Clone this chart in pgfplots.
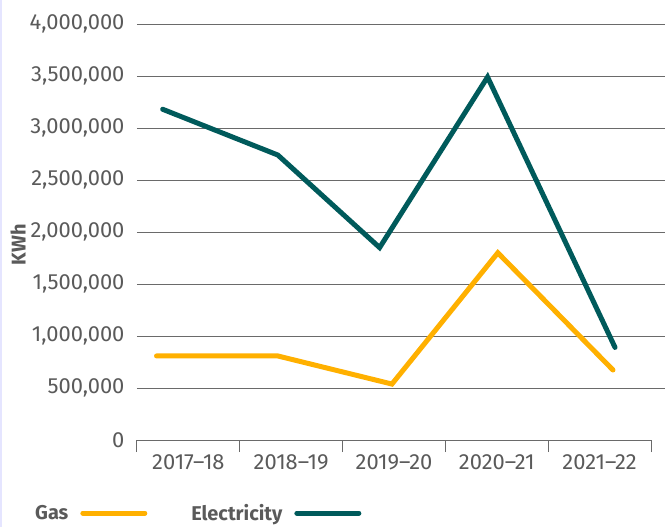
\documentclass[border=0pt]{standalone}
\usepackage{fontspec}
\setmainfont{Fira Sans}
\usepackage{pgfplots}
\pgfplotsset{compat=1.18}
\definecolor{elec}{HTML}{005A5B}
\definecolor{gas}{HTML}{FFB000}
\definecolor{txt}{HTML}{5A5A5A}
\definecolor{gridc}{HTML}{6A6A6A}
\begin{document}
\begin{tikzpicture}
\begin{axis}[name=ax, scale only axis, width=528bp, height=416bp,
  xmin=0, xmax=5.136, ymin=0, ymax=4000000, clip=false,
  axis x line*=bottom, axis y line*=left,
  x axis line style={draw=none}, y axis line style={draw=none},
  xtick={0,1,2,3,4,5},
  xticklabels={2017–18,2018–19,2019–20,2020–21,2021–22,{}},
  x tick label style={xshift=51.4bp, yshift=1bp, font=\fontsize{22}{22}\selectfont, text=txt},
  tick align=outside,
  x tick style={draw=gridc, line width=1bp},
  major tick length=12bp,
  y tick style={draw=none},
  ytick={500000,1000000,1500000,2000000,2500000,3000000,3500000,4000000},
  extra y ticks={0}, extra y tick style={grid=none},
  ymajorgrids, grid style={draw=gridc, line width=0.9bp},
  scaled y ticks=false,
  y tick label style={/pgf/number format/fixed, /pgf/number format/1000 sep={,}, /pgf/number format/assume math mode=true, /tikz/font=\fontsize{22}{22}\selectfont, /tikz/text=txt, /tikz/xshift=3bp},
  ylabel={KWh},
  every axis y label/.style={at={(axis description cs:-0.2254,0.469)}, rotate=90, anchor=center, font=\bfseries\fontsize{20}{20}\selectfont, text=txt},
  legend columns=2, legend plot pos=right,
  legend style={draw=none, fill=none, at={(axis description cs:-0.2027,-0.1755)}, anchor=west,
    font=\bfseries\fontsize{20}{20}\selectfont, text=txt,
    /tikz/every odd column/.append style={column sep=10bp},
    /tikz/every even column/.append style={column sep=42bp}},
  legend image code/.code={\draw[#1, line cap=round] (0bp,0bp) -- (62bp,0bp);},
]
\draw[gridc, line width=1bp] (axis cs:0,0) -- (axis cs:5,0);
\addplot[gas, line width=5bp, line cap=round, line join=miter] coordinates {
  (0.19,808000) (1.37,808000) (2.48,538000) (3.51,1800000) (4.63,673000)};
\addlegendentry{Gas}
\addplot[elec, line width=5bp, line cap=round, line join=miter] coordinates {
  (0.25,3180000) (1.37,2740000) (2.36,1850000) (3.41,3490000) (4.65,890000)};
\addlegendentry{Electricity}
\end{axis}
\pgfresetboundingbox
\path ([xshift=-137bp,yshift=-87bp]ax.south west) rectangle ([xshift=530bp,yshift=440bp]ax.south west);
\fill[blue!10] ([xshift=-137bp,yshift=-87bp]ax.south west) rectangle ([xshift=-135bp,yshift=440bp]ax.south west);
\end{tikzpicture}
\end{document}
